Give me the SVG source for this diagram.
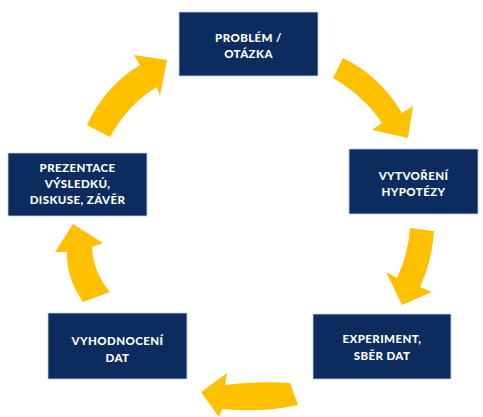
<svg xmlns="http://www.w3.org/2000/svg" width="483" height="417" viewBox="0 0 483 417">
<style>
.box{fill:#0c2b5e;stroke:#c9d1de;stroke-width:0.8}
.lbl{font-family:Lato,"Open Sans","Liberation Sans",sans-serif;font-weight:900;font-size:11.5px;fill:#ffffff;text-anchor:middle;letter-spacing:0.4px}
.arr{fill:#ffc000}
</style>
<rect width="483" height="417" fill="#ffffff"/>
<g id="connectors">
<path class="arr" d="M 87 125 Q 105 86 140 65 L 134 55 L 167 60 L 160 96 L 157 87 Q 128 104 110 137 Z"/>
<path class="arr" d="M 343 58 Q 380 76 402 113 L 413 106 L 408 138 L 372 130 L 382 123 Q 364 96 333 78 Z"/>
<path class="arr" d="M 410 228 L 434 231 Q 432 262 420 287 L 432 292 L 402 305 L 386 272 L 397 278 Q 408 255 410 228 Z"/>
<path class="arr" d="M 290 383 Q 255 381 225 385 L 227 373 L 201 392 L 219 417 L 222 409 Q 262 413 298 405 Z"/>
<path class="arr" d="M 83 302 Q 66 277 67 252 L 55 252 L 73 224 L 103 243 L 92 247 Q 93 272 110 292 Z"/>
</g>
<g id="node-problem">
<rect class="box" x="179" y="12" width="139" height="64"/>
<text class="lbl" x="248.5" y="42">PROBLÉM /</text>
<text class="lbl" x="248.5" y="58">OTÁZKA</text>
</g>
<g id="node-hypoteza">
<rect class="box" x="349" y="149" width="129" height="65"/>
<text class="lbl" x="413.5" y="180">VYTVOŘENÍ</text>
<text class="lbl" x="413.5" y="196">HYPOTÉZY</text>
</g>
<g id="node-experiment">
<rect class="box" x="313" y="314" width="138" height="65"/>
<text class="lbl" x="382" y="343">EXPERIMENT,</text>
<text class="lbl" x="382" y="360">SBĚR DAT</text>
</g>
<g id="node-vyhodnoceni">
<rect class="box" x="48" y="313" width="139" height="66"/>
<text class="lbl" x="117.5" y="345">VYHODNOCENÍ</text>
<text class="lbl" x="117.5" y="362">DAT</text>
</g>
<g id="node-prezentace">
<rect class="box" x="8" y="153" width="139" height="63"/>
<text class="lbl" x="77.5" y="172">PREZENTACE</text>
<text class="lbl" x="77.5" y="188">VÝSLEDKŮ,</text>
<text class="lbl" x="77.5" y="204">DISKUSE, ZÁVĚR</text>
</g>
</svg>
